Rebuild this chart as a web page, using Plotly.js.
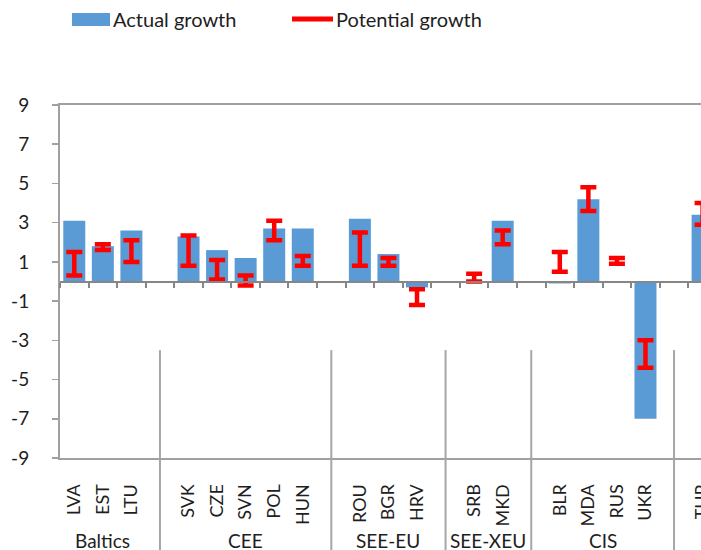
<!DOCTYPE html>
<html>
<head>
<meta charset="utf-8">
<script src="https://cdn.plot.ly/plotly-3.0.1.min.js"></script>
<style>
  html, body { margin: 0; padding: 0; overflow: hidden; background: #ffffff; }
  #chart { width: 770px; height: 560px; }
</style>
</head>
<body>
<div id="chart"></div>
<script>
// Country codes, their region, actual growth and the potential-growth range
const categories = ['LVA', 'EST', 'LTU', 'SVK', 'CZE', 'SVN', 'POL', 'HUN', 'ROU', 'BGR', 'HRV', 'SRB', 'MKD', 'BLR', 'MDA', 'RUS', 'UKR', 'TUR'];
const regions = ['Baltics', 'Baltics', 'Baltics', 'CEE', 'CEE', 'CEE', 'CEE', 'CEE', 'SEE-EU', 'SEE-EU', 'SEE-EU', 'SEE-XEU', 'SEE-XEU', 'CIS', 'CIS', 'CIS', 'CIS', ''];
const actualGrowth = [3.1, 1.8, 2.6, 2.3, 1.6, 1.2, 2.7, 2.7, 3.2, 1.4, -0.3, 0, 3.1, -0.1, 4.2, 0, -7.0, 3.4];
const potentialLow = [0.3, 1.6, 1.0, 0.8, 0.1, -0.2, 2.1, 0.8, 0.8, 0.8, -1.2, 0.0, 1.9, 0.5, 3.6, 0.9, -4.4, 2.9];
const potentialHigh = [1.5, 1.9, 2.1, 2.35, 1.1, 0.3, 3.1, 1.3, 2.5, 1.2, -0.4, 0.4, 2.6, 1.5, 4.8, 1.2, -3.0, 4.0];
const yTicks = [-9, -7, -5, -3, -1, 1, 3, 5, 7, 9];

// Slot positions: one empty slot is left between consecutive regions
const xPos = [];
const separators = [];
let slot = 0;
categories.forEach((c, i) => {
  if (i > 0 && regions[i] !== regions[i - 1]) {
    separators.push(slot);
    slot += 1;
  }
  xPos.push(slot);
  slot += 1;
});

// Region label sits at the mean slot of its members
const regionNames = [...new Set(regions)].filter(r => r !== '');
const regionCenters = regionNames.map(r => {
  const idx = regions.map((g, i) => g === r ? i : -1).filter(i => i >= 0);
  return idx.reduce((s, i) => s + xPos[i], 0) / idx.length;
});

// Page geometry helpers (pixels -> paper fractions)
const W = 770, H = 560;
const M = { l: 60, r: 0, t: 105, b: 102 };
const plotW = W - M.l - M.r, plotH = H - M.t - M.b;
const px = x => (x - M.l) / plotW;
const py = y => (H - M.b - y) / plotH;

const FONT = 'Lato, "Open Sans", sans-serif';
const TXT = '#1e1e1e';
const AX = '#A0A0A0';
const BLUE = '#5B9BD5';
const RED = '#FF0000';

const xRange = [-0.5, -0.5 + plotW / 28.56];

const traces = [
  {
    type: 'bar',
    x: xPos,
    y: actualGrowth,
    marker: { color: BLUE },
    name: 'Actual growth',
    hoverinfo: 'skip'
  },
  {
    type: 'scatter',
    mode: 'markers',
    x: xPos,
    y: potentialLow,
    marker: { size: 1, opacity: 0 },
    error_y: {
      type: 'data',
      symmetric: false,
      array: potentialHigh.map((h, i) => h - potentialLow[i]),
      arrayminus: potentialLow.map(() => 0),
      color: RED,
      thickness: 4.5,
      width: 8
    },
    name: 'Potential growth',
    hoverinfo: 'skip'
  },
  {
    // empty trace so that the zero-line axis (x2) gets drawn
    type: 'scatter',
    mode: 'markers',
    x: [],
    y: [],
    xaxis: 'x2',
    yaxis: 'y',
    hoverinfo: 'skip'
  }
];

const shapes = separators.map(s => ({
  type: 'line', xref: 'x', yref: 'paper',
  x0: s, x1: s, y0: (-3.5 + 9) / 18, y1: -0.4,
  line: { color: '#A6A6A6', width: 2 }
}));

// Legend swatches
shapes.push({
  type: 'rect', xref: 'paper', yref: 'paper',
  x0: px(72), x1: px(110), y0: py(26), y1: py(13),
  fillcolor: BLUE, line: { width: 0 }
});
shapes.push({
  type: 'line', xref: 'paper', yref: 'paper',
  x0: px(292), x1: px(333), y0: py(19), y1: py(19),
  line: { color: RED, width: 5 }
});

const annotations = [
  { text: 'Actual growth', x: px(111), y: py(19) },
  { text: 'Potential growth', x: px(334), y: py(19) }
].map(a => ({
  text: a.text, xref: 'paper', yref: 'paper', x: a.x, y: a.y,
  xanchor: 'left', yanchor: 'middle', showarrow: false,
  font: { family: FONT, size: 20, color: TXT }
}));

regionNames.forEach((r, i) => {
  annotations.push({
    text: r, xref: 'x', yref: 'paper', x: regionCenters[i], y: py(527),
    xanchor: 'center', yanchor: 'top', showarrow: false,
    font: { family: FONT, size: 19, color: TXT }
  });
});

const layout = {
  width: W, height: H,
  margin: M,
  paper_bgcolor: '#ffffff',
  plot_bgcolor: '#ffffff',
  showlegend: false,
  bargap: 0.23,
  xaxis: {
    range: xRange,
    tickmode: 'array',
    tickvals: xPos,
    ticktext: categories,
    tickangle: -90,
    ticks: '',
    ticklabelstandoff: 17,
    showline: true, linecolor: AX, linewidth: 2, mirror: true,
    showgrid: false, zeroline: false,
    tickfont: { family: FONT, size: 18, color: TXT }
  },
  xaxis2: {
    overlaying: 'x',
    anchor: 'free',
    position: 0.5,
    range: xRange,
    tickmode: 'linear', tick0: 0.5, dtick: 1,
    ticks: 'outside', ticklen: 5, tickwidth: 2, tickcolor: '#868686',
    showticklabels: false,
    showline: true, linecolor: '#868686', linewidth: 2,
    showgrid: false, zeroline: false
  },
  yaxis: {
    range: [-9, 9],
    tickmode: 'array',
    tickvals: yTicks,
    ticktext: yTicks.map(String),
    ticks: 'outside', ticklen: 6, tickwidth: 1.5, tickcolor: AX,
    ticklabelstandoff: 19,
    showline: true, linecolor: AX, linewidth: 2,
    showgrid: false, zeroline: false,
    tickfont: { family: FONT, size: 19, color: TXT }
  },
  shapes: shapes,
  annotations: annotations
};

Plotly.newPlot('chart', traces, layout, { staticPlot: true, displayModeBar: false });
</script>
</body>
</html>
